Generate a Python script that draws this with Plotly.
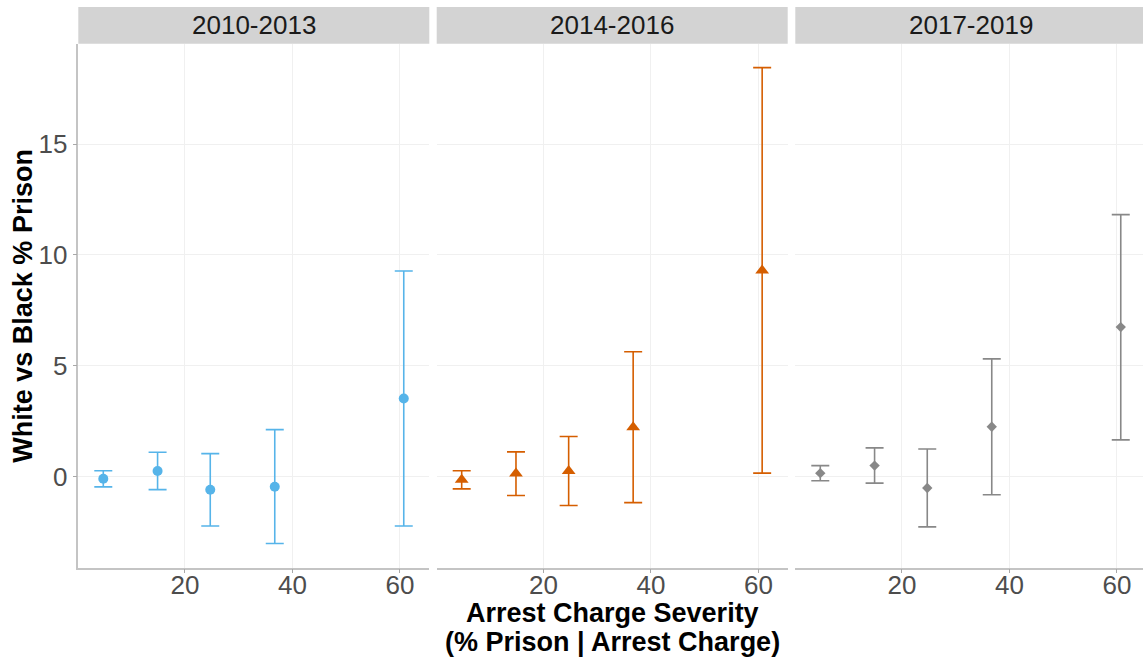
import plotly.graph_objects as go

# Arrest charge severity (% prison | arrest charge) for each severity bin
severity = [4.8, 14.9, 24.7, 36.7, 60.7]

periods = ["2010-2013", "2014-2016", "2017-2019"]

# White vs Black difference in % prison, with 95% interval bounds
est_2010 = [-0.08, 0.27, -0.58, -0.44, 3.53]
low_2010 = [-0.45, -0.57, -2.21, -3.00, -2.21]
high_2010 = [0.28, 1.11, 1.05, 2.13, 9.28]

est_2014 = [-0.13, 0.15, 0.27, 2.24, 9.30]
low_2014 = [-0.54, -0.84, -1.29, -1.16, 0.17]
high_2014 = [0.28, 1.13, 1.82, 5.64, 18.44]

est_2017 = [0.17, 0.51, -0.50, 2.26, 6.75]
low_2017 = [-0.17, -0.28, -2.25, -0.80, 1.67]
high_2017 = [0.51, 1.31, 1.26, 5.32, 11.82]

series = [
    (est_2010, low_2010, high_2010, "#56B4E9", "circle", 10),
    (est_2014, low_2014, high_2014, "#D55E00", "triangle-up", 12),
    (est_2017, low_2017, high_2017, "#888888", "diamond", 8),
]

W, H = 1143, 658
FONT = "Liberation Sans, Arial, Helvetica, sans-serif"

# panel geometry in pixels
panel_px = [(78.3, 429.3), (436.7, 787.7), (795.3, 1143.0)]
top_px, bottom_px = 43.7, 567.7
strip_top_px = 7.0
px_per_unit = 5.375
x_min = 0.15

fig = go.Figure()

for i, (est, low, high, color, symbol, msize) in enumerate(series):
    up = [h - e for h, e in zip(high, est)]
    dn = [e - l for e, l in zip(est, low)]
    suffix = "" if i == 0 else str(i + 1)
    fig.add_trace(go.Scatter(
        x=severity, y=est, mode="markers",
        marker=dict(color=color, symbol=symbol, size=msize, line=dict(width=0)),
        error_y=dict(type="data", symmetric=False, array=up, arrayminus=dn,
                     color=color, thickness=1.6, width=9),
        xaxis="x" + suffix, yaxis="y" + suffix, showlegend=False,
        cliponaxis=False,
    ))

layout = dict(
    width=W, height=H,
    margin=dict(l=0, r=0, t=0, b=0),
    paper_bgcolor="white", plot_bgcolor="white",
    font=dict(family=FONT, size=26, color="#4d4d4d"),
    showlegend=False,
)

y_dom = [1 - bottom_px / H, 1 - top_px / H]
shapes = []
annotations = []

for i, (x0, x1) in enumerate(panel_px):
    suffix = "" if i == 0 else str(i + 1)
    x_max = x_min + (x1 - x0) / px_per_unit
    layout["xaxis" + suffix] = dict(
        domain=[x0 / W, x1 / W], range=[x_min, x_max],
        tickvals=[20, 40, 60], ticktext=["20", "40", "60"],
        showgrid=True, gridcolor="#f0f0f0", gridwidth=1,
        zeroline=False, showline=True, linecolor="#c4c4c4", linewidth=1.5,
        ticks="outside", ticklen=4, tickcolor="#a8a8a8", tickwidth=1,
        ticklabelstandoff=-11,
        tickfont=dict(size=26, color="#4d4d4d", family=FONT),
        anchor="y" + suffix, fixedrange=True,
    )
    layout["yaxis" + suffix] = dict(
        domain=y_dom, range=[-4.09, 19.52],
        tickvals=[0, 5, 10, 15],
        showgrid=True, gridcolor="#f0f0f0", gridwidth=1,
        zeroline=False, showline=(i == 0), linecolor="#c4c4c4", linewidth=1.5,
        ticks="outside" if i == 0 else "", ticklen=4, tickcolor="#a8a8a8",
        showticklabels=(i == 0),
        tickfont=dict(size=26, color="#4d4d4d", family=FONT),
        anchor="x" + suffix, fixedrange=True,
    )
    # facet strip
    shapes.append(dict(
        type="rect", xref="paper", yref="paper",
        x0=x0 / W, x1=x1 / W,
        y0=1 - top_px / H, y1=1 - strip_top_px / H,
        fillcolor="#d3d3d3", line=dict(width=0), layer="below",
    ))
    annotations.append(dict(
        text=periods[i], xref="paper", yref="paper",
        x=((x0 + (x0 + 351.0)) / 2) / W if i == 2 else ((x0 + x1) / 2) / W,
        y=1 - (strip_top_px + top_px) / 2 / H,
        xanchor="center", yanchor="middle", showarrow=False,
        font=dict(size=26, color="#1a1a1a", family=FONT),
    ))

# axis titles
annotations.append(dict(
    text="<b>White vs Black % Prison</b>", xref="paper", yref="paper",
    x=23 / W, y=1 - ((top_px + bottom_px) / 2) / H, textangle=-90,
    xanchor="center", yanchor="middle", showarrow=False,
    font=dict(size=27, color="black", family=FONT),
))
annotations.append(dict(
    text="<b>Arrest Charge Severity</b>", xref="paper", yref="paper",
    x=612.3 / W, y=1 - 613 / H, xanchor="center", yanchor="middle",
    showarrow=False, font=dict(size=27, color="black", family=FONT),
))
annotations.append(dict(
    text="<b>(% Prison | Arrest Charge)</b>", xref="paper", yref="paper",
    x=612.3 / W, y=1 - 641.5 / H, xanchor="center", yanchor="middle",
    showarrow=False, font=dict(size=27, color="black", family=FONT),
))

layout["shapes"] = shapes
layout["annotations"] = annotations
fig.update_layout(**layout)

fig.write_html("out.html", config={"displayModeBar": False})
